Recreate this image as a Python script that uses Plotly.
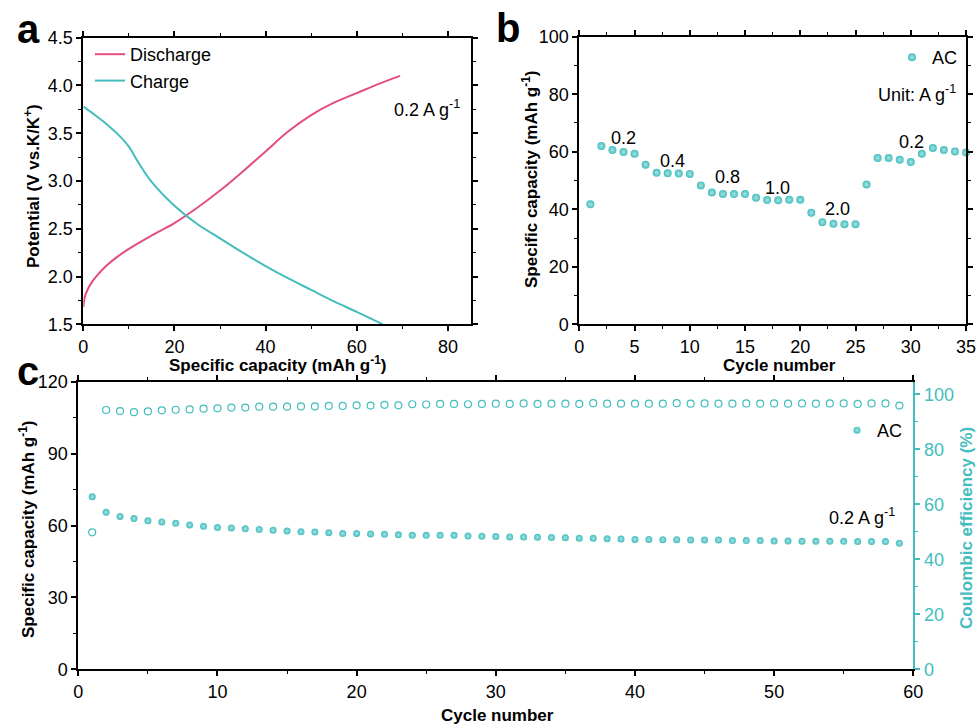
import plotly.graph_objects as go

# ---------------- data ----------------
# panel a: galvanostatic profiles
dis_cap = [0, 0.3, 1, 2, 3, 5, 7, 10, 15, 20, 25, 30, 35, 40, 45, 50, 55, 60, 65, 69.5]
dis_pot = [1.68, 1.78, 1.87, 1.95, 2.01, 2.11, 2.19, 2.29, 2.43, 2.56, 2.72, 2.90, 3.10, 3.31, 3.52, 3.69, 3.82, 3.92, 4.02, 4.10]
chg_cap = [0, 2, 5, 8, 10, 12, 15, 20, 25, 30, 35, 40, 45, 50, 55, 60, 65.7]
chg_pot = [3.78, 3.71, 3.60, 3.47, 3.36, 3.20, 2.99, 2.74, 2.55, 2.40, 2.25, 2.11, 1.98, 1.86, 1.74, 1.63, 1.50]

# panel b: rate performance
rate_cycle = list(range(1, 36))
rate_cap = [41.7, 62.0, 60.6, 59.9, 59.3, 55.5, 52.7, 52.5, 52.4, 52.3,
            48.3, 45.8, 45.3, 45.3, 45.3, 44.0, 43.2, 43.1, 43.3, 43.3,
            38.8, 35.5, 35.0, 34.8, 34.8, 48.6, 57.8, 57.8, 57.2, 56.4,
            59.3, 61.3, 60.6, 60.1, 59.7]
rate_labels = ["0.2", "0.4", "0.8", "1.0", "2.0", "0.2"]
rate_label_x = [4.0, 8.4, 13.45, 17.95, 23.4, 30.1]
rate_label_y = [64.7, 56.8, 51.1, 47.3, 40.0, 63.5]

# panel c: cycling at 0.2 A/g
cyc = list(range(1, 60))
cyc_cap = [72.0, 65.5, 63.8, 62.9, 62.0, 61.5, 60.9, 60.2, 59.7, 59.2,
           59.0, 58.6, 58.3, 58.0, 57.7, 57.4, 57.3, 57.0, 56.7, 56.7,
           56.5, 56.3, 56.1, 55.9, 55.9, 55.9, 55.9, 55.6, 55.5, 55.4,
           55.2, 55.2, 55.1, 55.0, 54.9, 54.7, 54.7, 54.5, 54.4, 54.2,
           54.2, 54.1, 54.1, 54.0, 54.0, 54.0, 53.7, 53.7, 53.7, 53.5,
           53.5, 53.4, 53.4, 53.4, 53.4, 53.3, 53.3, 53.3, 52.6]
cyc_ce = [49.8, 94.3, 93.9, 93.5, 93.8, 94.2, 94.4, 94.5, 94.8, 94.9,
          95.2, 95.2, 95.5, 95.5, 95.5, 95.6, 95.6, 95.8, 95.8, 96.0,
          95.9, 96.2, 96.0, 96.4, 96.3, 96.5, 96.5, 96.4, 96.5, 96.6,
          96.5, 96.7, 96.5, 96.6, 96.6, 96.5, 96.8, 96.6, 96.6, 96.6,
          96.6, 96.6, 96.8, 96.6, 96.7, 96.6, 96.6, 96.7, 96.6, 96.7,
          96.6, 96.7, 96.6, 96.7, 96.7, 96.5, 96.7, 96.7, 95.9]

TEAL = "#43BDBD"
PINK = "#E44C86"
FONT = "Liberation Sans, Arial, sans-serif"
W, H = 980, 728


def px(x):
    return x / W


def py(y):
    return 1 - y / H


sphere = dict(color=TEAL, size=8, line=dict(width=0),
              gradient=dict(type="radial", color="#A8E2E2"))

fig = go.Figure()

# panel a
fig.add_trace(go.Scatter(x=dis_cap, y=dis_pot, mode="lines", name="Discharge",
                         line=dict(color=PINK, width=2, shape="spline"),
                         xaxis="x", yaxis="y", legend="legend"))
fig.add_trace(go.Scatter(x=chg_cap, y=chg_pot, mode="lines", name="Charge",
                         line=dict(color=TEAL, width=2, shape="spline"),
                         xaxis="x", yaxis="y", legend="legend"))

# panel b
fig.add_trace(go.Scatter(x=rate_cycle, y=rate_cap, mode="markers", name="AC",
                         marker=sphere, xaxis="x2", yaxis="y2", legend="legend2",
                         cliponaxis=False))

# panel c
fig.add_trace(go.Scatter(x=cyc, y=cyc_ce, mode="markers", name="CE",
                         marker=dict(symbol="circle-open", color=TEAL, size=7,
                                     line=dict(width=1.2, color=TEAL)),
                         xaxis="x3", yaxis="y4", showlegend=False))
fig.add_trace(go.Scatter(x=cyc, y=cyc_cap, mode="markers", name="AC",
                         marker=dict(sphere, size=7), xaxis="x3", yaxis="y3",
                         legend="legend3"))

tickfont = dict(family=FONT, size=18, color="black")
common = dict(showgrid=False, zeroline=False, showline=True, linewidth=2,
              linecolor="black", ticks="outside", ticklen=5, tickwidth=1.5,
              tickcolor="black", tickfont=tickfont, automargin=False)
minor = dict(ticks="outside", ticklen=3, tickwidth=1.2, tickcolor="black", showgrid=False)

dom_a_x = [px(83.3), px(470.7)]
dom_a_y = [py(324.3), py(37.7)]
dom_b_x = [px(579.3), px(966)]
dom_b_y = [py(324.3), py(36.7)]
dom_c_x = [px(78.3), px(913.3)]
dom_c_y = [py(669.3), py(381.7)]

fig.update_layout(
    width=W, height=H, margin=dict(l=0, r=0, t=0, b=0, pad=0),
    paper_bgcolor="white", plot_bgcolor="white",
    font=dict(family=FONT, size=18, color="black"),
    xaxis=dict(common, domain=dom_a_x, anchor="y", range=[0, 85], dtick=20,
               minor=dict(minor, dtick=10), mirror="ticks"),
    yaxis=dict(common, domain=dom_a_y, anchor="x", range=[1.5, 4.5], dtick=0.5,
               tickformat=".1f", minor=dict(minor, dtick=0.25), mirror="ticks"),
    xaxis2=dict(common, domain=dom_b_x, anchor="y2", range=[0, 35], dtick=5,
                minor=dict(minor, dtick=2.5), mirror="ticks"),
    yaxis2=dict(common, domain=dom_b_y, anchor="x2", range=[0, 100], dtick=20,
                minor=dict(minor, dtick=10), mirror="ticks"),
    xaxis3=dict(common, domain=dom_c_x, anchor="y3", range=[0, 60], dtick=10,
                minor=dict(minor, dtick=5), mirror="ticks"),
    yaxis3=dict(common, domain=dom_c_y, anchor="x3", range=[0, 120], dtick=30,
                minor=dict(minor, dtick=15)),
    yaxis4=dict(common, overlaying="y3", anchor="x3", side="right",
                range=[0, 104.6], dtick=20, linecolor=TEAL, tickcolor=TEAL,
                tickfont=dict(family=FONT, size=18, color=TEAL),
                minor=dict(minor, dtick=10, tickcolor=TEAL)),
    legend=dict(x=px(90), y=py(36), xanchor="left", yanchor="top",
                bgcolor="rgba(0,0,0,0)", borderwidth=0, tracegroupgap=0,
                font=dict(family=FONT, size=18), itemwidth=30),
    legend2=dict(x=px(892), y=py(39), xanchor="left", yanchor="top",
                 bgcolor="rgba(0,0,0,0)", borderwidth=0,
                 font=dict(family=FONT, size=18)),
    legend3=dict(x=px(837), y=py(412), xanchor="left", yanchor="top",
                 bgcolor="rgba(0,0,0,0)", borderwidth=0,
                 font=dict(family=FONT, size=18)),
    hovermode=False,
)

ann = []
# panel letters
for t, x, y in [("a", 28, 29), ("b", 508, 28), ("c", 28, 371)]:
    ann.append(dict(text=f"<b>{t}</b>", x=px(x), y=py(y),
                    font=dict(family=FONT, size=40, color="black")))

# axis titles
title_font = dict(family=FONT, size=17, color="black")
ann += [
    dict(text="<b>Potential (V vs.K/K<sup>+</sup>)</b>", x=px(32), y=py(186),
         textangle=-90, font=title_font),
    dict(text="<b>Specific capacity (mAh g<sup>-1</sup>)</b>", x=px(277), y=py(364),
         font=title_font),
    dict(text="<b>Specific capacity (mAh g<sup>-1</sup>)</b>", x=px(530), y=py(180),
         textangle=-90, font=title_font),
    dict(text="<b>Cycle number</b>", x=px(779), y=py(365), font=title_font),
    dict(text="<b>Specific capacity (mAh g<sup>-1</sup>)</b>", x=px(27), y=py(530),
         textangle=-90, font=title_font),
    dict(text="<b>Coulombic efficiency (%)</b>", x=px(966), y=py(528),
         textangle=-90, font=dict(title_font, color=TEAL)),
    dict(text="<b>Cycle number</b>", x=px(497), y=py(715), font=title_font),
]
for a in ann:
    a.setdefault("xref", "paper")
    a.setdefault("yref", "paper")
    a.setdefault("showarrow", False)
    a.setdefault("xanchor", "center")
    a.setdefault("yanchor", "middle")

# in-plot texts
ann.append(dict(text="0.2 A g<sup>-1</sup>", x=83.1, y=3.76, xref="x", yref="y",
                xanchor="right", yanchor="middle", showarrow=False,
                font=dict(family=FONT, size=18)))
for t, x, y in zip(rate_labels, rate_label_x, rate_label_y):
    ann.append(dict(text=t, x=x, y=y, xref="x2", yref="y2", showarrow=False,
                    xanchor="center", yanchor="middle", font=dict(family=FONT, size=18)))
ann.append(dict(text="Unit: A g<sup>-1</sup>", x=px(958), y=py(93), xref="paper",
                yref="paper", xanchor="right", yanchor="middle", showarrow=False,
                font=dict(family=FONT, size=18)))
ann.append(dict(text="0.2 A g<sup>-1</sup>", x=58.8, y=63.7, xref="x3", yref="y3",
                xanchor="right", yanchor="middle", showarrow=False,
                font=dict(family=FONT, size=18)))

fig.update_layout(annotations=ann)
fig.write_html("out.html", config={"displayModeBar": False},
               post_script="document.body.style.margin='0px';document.body.style.padding='0px';")
